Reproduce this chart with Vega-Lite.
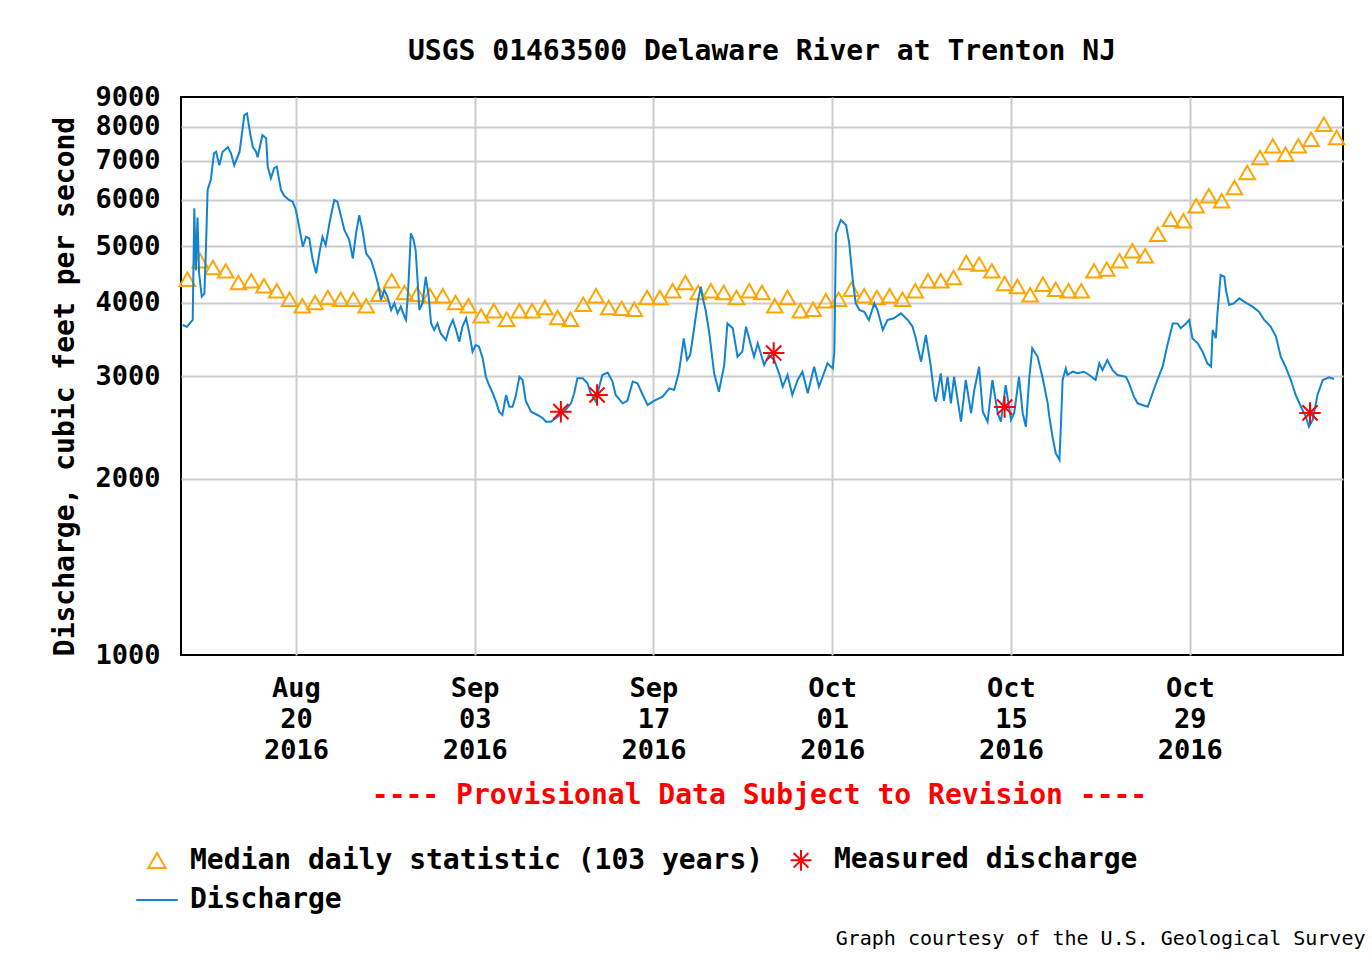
{
"$schema": "https://vega.github.io/schema/vega-lite/v6.json",
"width": 1162, "height": 558,
"autosize": {"type": "none"},
"padding": {"left": 181, "top": 97, "right": 29, "bottom": 300},
"background": "white",
"title": {"text": "USGS 01463500 Delaware River at Trenton NJ", "font": "DejaVu Sans Mono", "fontSize": 28, "fontWeight": "bold", "color": "#000000", "anchor": "middle", "offset": 17},
"config": {
  "view": {"stroke": "#000000", "strokeWidth": 2},
  "legend": {"orient": "none", "legendX": -38, "legendY": 749, "direction": "vertical", "columns": 2, "columnPadding": 22, "rowPadding": 11, "labelFont": "DejaVu Sans Mono", "labelFontSize": 28, "labelFontWeight": "bold", "labelColor": "#000000", "labelOffset": 19, "labelLimit": 0, "symbolSize": 300, "symbolStrokeWidth": 2, "symbolFillColor": "transparent", "padding": 0, "gridAlign": "each", "labelBaseline": "middle"}
},
"datasets": {
"median": [
{"t":"2016-08-11T12:00","v":4391},{"t":"2016-08-12T12:00","v":4722},{"t":"2016-08-13T12:00","v":4599},{"t":"2016-08-14T12:00","v":4539},{"t":"2016-08-15T12:00","v":4335},{"t":"2016-08-16T12:00","v":4364},{"t":"2016-08-17T12:00","v":4279},{"t":"2016-08-18T12:00","v":4196},{"t":"2016-08-19T12:00","v":4059},{"t":"2016-08-20T12:00","v":3955},
{"t":"2016-08-21T12:00","v":4007},{"t":"2016-08-22T12:00","v":4087},{"t":"2016-08-23T12:00","v":4059},{"t":"2016-08-24T12:00","v":4059},{"t":"2016-08-25T12:00","v":3955},{"t":"2016-08-26T12:00","v":4140},{"t":"2016-08-27T12:00","v":4364},{"t":"2016-08-28T12:00","v":4168},{"t":"2016-08-29T12:00","v":4140},{"t":"2016-08-30T12:00","v":4114},
{"t":"2016-08-31T12:00","v":4114},{"t":"2016-09-01T12:00","v":4007},{"t":"2016-09-02T12:00","v":3955},{"t":"2016-09-03T12:00","v":3802},{"t":"2016-09-04T12:00","v":3878},{"t":"2016-09-05T12:00","v":3752},{"t":"2016-09-06T12:00","v":3878},{"t":"2016-09-07T12:00","v":3878},{"t":"2016-09-08T12:00","v":3928},{"t":"2016-09-09T12:00","v":3777},
{"t":"2016-09-10T12:00","v":3752},{"t":"2016-09-11T12:00","v":3980},{"t":"2016-09-12T12:00","v":4114},{"t":"2016-09-13T12:00","v":3928},{"t":"2016-09-14T12:00","v":3915},{"t":"2016-09-15T12:00","v":3902},{"t":"2016-09-16T12:00","v":4087},{"t":"2016-09-17T12:00","v":4087},{"t":"2016-09-18T12:00","v":4196},{"t":"2016-09-19T12:00","v":4335},
{"t":"2016-09-20T12:00","v":4168},{"t":"2016-09-21T12:00","v":4196},{"t":"2016-09-22T12:00","v":4168},{"t":"2016-09-23T12:00","v":4087},{"t":"2016-09-24T12:00","v":4196},{"t":"2016-09-25T12:00","v":4168},{"t":"2016-09-26T12:00","v":3955},{"t":"2016-09-27T12:00","v":4087},{"t":"2016-09-28T12:00","v":3878},{"t":"2016-09-29T12:00","v":3902},
{"t":"2016-09-30T12:00","v":4034},{"t":"2016-10-01T12:00","v":4059},{"t":"2016-10-02T12:00","v":4222},{"t":"2016-10-03T12:00","v":4114},{"t":"2016-10-04T12:00","v":4087},{"t":"2016-10-05T12:00","v":4114},{"t":"2016-10-06T12:00","v":4059},{"t":"2016-10-07T12:00","v":4196},{"t":"2016-10-08T12:00","v":4364},{"t":"2016-10-09T12:00","v":4364},
{"t":"2016-10-10T12:00","v":4421},{"t":"2016-10-11T12:00","v":4691},{"t":"2016-10-12T12:00","v":4660},{"t":"2016-10-13T12:00","v":4539},{"t":"2016-10-14T12:00","v":4318},{"t":"2016-10-15T12:00","v":4268},{"t":"2016-10-16T12:00","v":4130},{"t":"2016-10-17T12:00","v":4306},{"t":"2016-10-18T12:00","v":4222},{"t":"2016-10-19T12:00","v":4196},
{"t":"2016-10-20T12:00","v":4196},{"t":"2016-10-21T12:00","v":4539},{"t":"2016-10-22T12:00","v":4569},{"t":"2016-10-23T12:00","v":4722},{"t":"2016-10-24T12:00","v":4912},{"t":"2016-10-25T12:00","v":4816},{"t":"2016-10-26T12:00","v":5243},{"t":"2016-10-27T12:00","v":5563},{"t":"2016-10-28T12:00","v":5528},{"t":"2016-10-29T12:00","v":5864},
{"t":"2016-10-30T12:00","v":6099},{"t":"2016-10-31T12:00","v":5980},{"t":"2016-11-01T12:00","v":6301},{"t":"2016-11-02T12:00","v":6686},{"t":"2016-11-03T12:00","v":7091},{"t":"2016-11-04T12:00","v":7425},{"t":"2016-11-05T12:00","v":7185},{"t":"2016-11-06T12:00","v":7425},{"t":"2016-11-07T12:00","v":7622},{"t":"2016-11-08T12:00","v":8085},
{"t":"2016-11-09T12:00","v":7672}
],
"discharge": [
{"t":"2016-08-11T03:00","v":3667},{"t":"2016-08-11T11:00","v":3640},{"t":"2016-08-11T22:00","v":3741},{"t":"2016-08-12T01:00","v":5805},{"t":"2016-08-12T04:00","v":4550},{"t":"2016-08-12T07:00","v":5600},{"t":"2016-08-12T10:00","v":4500},{"t":"2016-08-12T15:00","v":4100},{"t":"2016-08-12T20:00","v":4150},{"t":"2016-08-12T23:00","v":4990},
{"t":"2016-08-13T02:00","v":6240},{"t":"2016-08-13T08:00","v":6495},{"t":"2016-08-13T14:00","v":7210},{"t":"2016-08-13T18:00","v":7256},{"t":"2016-08-14T00:00","v":6880},{"t":"2016-08-14T06:00","v":7250},{"t":"2016-08-14T16:00","v":7390},{"t":"2016-08-14T22:00","v":7210},{"t":"2016-08-15T04:00","v":6880},{"t":"2016-08-15T14:00","v":7250},
{"t":"2016-08-15T17:00","v":7596},{"t":"2016-08-15T23:00","v":8382},{"t":"2016-08-16T04:00","v":8440},{"t":"2016-08-16T10:00","v":7800},{"t":"2016-08-16T15:00","v":7390},{"t":"2016-08-16T21:00","v":7256},{"t":"2016-08-17T00:00","v":7100},{"t":"2016-08-17T09:00","v":7748},{"t":"2016-08-17T16:00","v":7650},{"t":"2016-08-17T19:00","v":6840},
{"t":"2016-08-18T01:00","v":6535},{"t":"2016-08-18T07:00","v":6800},{"t":"2016-08-18T12:00","v":6840},{"t":"2016-08-18T20:00","v":6238},{"t":"2016-08-19T02:00","v":6100},{"t":"2016-08-19T11:00","v":6000},{"t":"2016-08-19T18:00","v":5960},{"t":"2016-08-20T00:00","v":5768},{"t":"2016-08-20T06:00","v":5401},{"t":"2016-08-20T13:00","v":4990},
{"t":"2016-08-20T19:00","v":5190},{"t":"2016-08-21T01:00","v":5160},{"t":"2016-08-21T07:00","v":4766},{"t":"2016-08-21T14:00","v":4494},{"t":"2016-08-21T20:00","v":4863},{"t":"2016-08-22T02:00","v":5190},{"t":"2016-08-22T08:00","v":5024},{"t":"2016-08-22T15:00","v":5474},{"t":"2016-08-23T00:00","v":5999},{"t":"2016-08-23T06:00","v":5960},
{"t":"2016-08-23T13:00","v":5617},{"t":"2016-08-23T19:00","v":5331},{"t":"2016-08-24T04:00","v":5135},{"t":"2016-08-24T11:00","v":4766},{"t":"2016-08-24T17:00","v":5260},{"t":"2016-08-24T23:00","v":5653},{"t":"2016-08-25T05:00","v":5331},{"t":"2016-08-25T12:00","v":4863},{"t":"2016-08-25T21:00","v":4737},{"t":"2016-08-26T03:00","v":4553},
{"t":"2016-08-26T10:00","v":4321},{"t":"2016-08-26T16:00","v":4046},{"t":"2016-08-26T22:00","v":4209},{"t":"2016-08-27T04:00","v":4100},{"t":"2016-08-27T11:00","v":3890},{"t":"2016-08-27T17:00","v":3995},{"t":"2016-08-27T23:00","v":3839},{"t":"2016-08-28T05:00","v":3942},{"t":"2016-08-28T12:00","v":3790},{"t":"2016-08-28T15:00","v":3741},
{"t":"2016-08-28T19:00","v":4209},{"t":"2016-08-29T00:00","v":5260},{"t":"2016-08-29T05:00","v":5135},{"t":"2016-08-29T09:00","v":4926},{"t":"2016-08-29T13:00","v":4321},{"t":"2016-08-29T16:00","v":3890},{"t":"2016-08-29T22:00","v":3995},{"t":"2016-08-30T04:00","v":4434},{"t":"2016-08-30T09:00","v":4150},{"t":"2016-08-30T14:00","v":3690},
{"t":"2016-08-30T20:00","v":3596},{"t":"2016-08-31T02:00","v":3690},{"t":"2016-08-31T08:00","v":3548},{"t":"2016-08-31T18:00","v":3457},{"t":"2016-09-01T00:00","v":3620},{"t":"2016-09-01T07:00","v":3741},{"t":"2016-09-01T13:00","v":3596},{"t":"2016-09-01T19:00","v":3434},{"t":"2016-09-02T01:00","v":3643},{"t":"2016-09-02T08:00","v":3765},
{"t":"2016-09-02T14:00","v":3548},{"t":"2016-09-02T20:00","v":3302},{"t":"2016-09-03T02:00","v":3390},{"t":"2016-09-03T08:00","v":3370},{"t":"2016-09-03T15:00","v":3217},{"t":"2016-09-03T21:00","v":2991},{"t":"2016-09-04T03:00","v":2893},{"t":"2016-09-04T10:00","v":2803},{"t":"2016-09-04T16:00","v":2712},{"t":"2016-09-04T22:00","v":2607},
{"t":"2016-09-05T04:00","v":2573},{"t":"2016-09-05T11:00","v":2784},{"t":"2016-09-05T17:00","v":2658},{"t":"2016-09-05T23:00","v":2658},{"t":"2016-09-06T05:00","v":2766},{"t":"2016-09-06T12:00","v":2991},{"t":"2016-09-06T18:00","v":2953},{"t":"2016-09-07T00:00","v":2720},{"t":"2016-09-07T10:00","v":2607},{"t":"2016-09-07T22:00","v":2573},
{"t":"2016-09-08T08:00","v":2540},{"t":"2016-09-08T14:00","v":2506},{"t":"2016-09-08T23:00","v":2506},{"t":"2016-09-09T12:00","v":2556},{"t":"2016-09-10T00:00","v":2607},{"t":"2016-09-10T13:00","v":2694},{"t":"2016-09-10T19:00","v":2803},{"t":"2016-09-11T01:00","v":2974},{"t":"2016-09-11T11:00","v":2974},{"t":"2016-09-11T20:00","v":2915},
{"t":"2016-09-12T02:00","v":2803},{"t":"2016-09-12T12:00","v":2712},{"t":"2016-09-12T18:00","v":2876},{"t":"2016-09-13T00:00","v":3012},{"t":"2016-09-13T10:00","v":3040},{"t":"2016-09-13T19:00","v":2934},{"t":"2016-09-14T01:00","v":2784},{"t":"2016-09-14T14:00","v":2694},{"t":"2016-09-14T23:00","v":2720},{"t":"2016-09-15T09:00","v":2934},
{"t":"2016-09-15T18:00","v":2915},{"t":"2016-09-16T04:00","v":2784},{"t":"2016-09-16T13:00","v":2677},{"t":"2016-09-17T01:00","v":2720},{"t":"2016-09-17T17:00","v":2766},{"t":"2016-09-18T06:00","v":2858},{"t":"2016-09-18T15:00","v":2839},{"t":"2016-09-19T00:00","v":3051},{"t":"2016-09-19T09:00","v":3480},{"t":"2016-09-19T15:00","v":3195},
{"t":"2016-09-19T21:00","v":3258},{"t":"2016-09-20T04:00","v":3596},{"t":"2016-09-20T12:00","v":4046},{"t":"2016-09-20T17:00","v":4265},{"t":"2016-09-20T20:00","v":4100},{"t":"2016-09-21T02:00","v":3890},{"t":"2016-09-21T09:00","v":3548},{"t":"2016-09-21T18:00","v":3032},{"t":"2016-09-22T03:00","v":2820},{"t":"2016-09-22T13:00","v":3132},
{"t":"2016-09-22T19:00","v":3690},{"t":"2016-09-23T05:00","v":3620},{"t":"2016-09-23T14:00","v":3236},{"t":"2016-09-23T23:00","v":3302},{"t":"2016-09-24T06:00","v":3643},{"t":"2016-09-24T15:00","v":3390},{"t":"2016-09-24T21:00","v":3236},{"t":"2016-09-25T04:00","v":3412},{"t":"2016-09-25T16:00","v":3132},{"t":"2016-09-26T01:00","v":3258},
{"t":"2016-09-26T11:00","v":3195},{"t":"2016-09-26T20:00","v":3032},{"t":"2016-09-27T03:00","v":2876},{"t":"2016-09-27T12:00","v":3012},{"t":"2016-09-27T21:00","v":2784},{"t":"2016-09-28T07:00","v":2953},{"t":"2016-09-28T16:00","v":3051},{"t":"2016-09-29T02:00","v":2803},{"t":"2016-09-29T14:00","v":3112},{"t":"2016-09-29T23:00","v":2876},
{"t":"2016-09-30T06:00","v":2991},{"t":"2016-09-30T15:00","v":3153},{"t":"2016-10-01T01:00","v":3091},{"t":"2016-10-01T04:00","v":3300},{"t":"2016-10-01T07:00","v":5260},{"t":"2016-10-01T16:00","v":5545},{"t":"2016-10-02T02:00","v":5436},{"t":"2016-10-02T08:00","v":5058},{"t":"2016-10-02T14:00","v":4434},{"t":"2016-10-02T20:00","v":3995},
{"t":"2016-10-03T03:00","v":3890},{"t":"2016-10-03T12:00","v":3864},{"t":"2016-10-03T21:00","v":3741},{"t":"2016-10-04T07:00","v":3995},{"t":"2016-10-04T13:00","v":3890},{"t":"2016-10-04T23:00","v":3596},{"t":"2016-10-05T08:00","v":3741},{"t":"2016-10-05T20:00","v":3765},{"t":"2016-10-06T09:00","v":3839},{"t":"2016-10-06T22:00","v":3741},
{"t":"2016-10-07T07:00","v":3643},{"t":"2016-10-07T13:00","v":3480},{"t":"2016-10-07T23:00","v":3174},{"t":"2016-10-08T08:00","v":3525},{"t":"2016-10-08T17:00","v":3132},{"t":"2016-10-09T00:00","v":2766},{"t":"2016-10-09T03:00","v":2712},{"t":"2016-10-09T12:00","v":3032},{"t":"2016-10-09T18:00","v":2720},{"t":"2016-10-10T01:00","v":2991},
{"t":"2016-10-10T07:00","v":2694},{"t":"2016-10-10T13:00","v":2991},{"t":"2016-10-11T02:00","v":2506},{"t":"2016-10-11T11:00","v":2953},{"t":"2016-10-11T21:00","v":2591},{"t":"2016-10-12T03:00","v":2839},{"t":"2016-10-12T12:00","v":3112},{"t":"2016-10-12T19:00","v":2607},{"t":"2016-10-13T04:00","v":2506},{"t":"2016-10-13T13:00","v":2953},
{"t":"2016-10-13T23:00","v":2591},{"t":"2016-10-14T05:00","v":2506},{"t":"2016-10-14T14:00","v":2893},{"t":"2016-10-15T00:00","v":2523},{"t":"2016-10-15T06:00","v":2591},{"t":"2016-10-15T15:00","v":2990},{"t":"2016-10-15T22:00","v":2591},{"t":"2016-10-16T04:00","v":2457},{"t":"2016-10-16T10:00","v":2953},{"t":"2016-10-16T16:00","v":3346},
{"t":"2016-10-17T02:00","v":3236},{"t":"2016-10-17T11:00","v":2991},{"t":"2016-10-17T21:00","v":2694},{"t":"2016-10-18T00:00","v":2556},{"t":"2016-10-18T06:00","v":2362},{"t":"2016-10-18T12:00","v":2213},{"t":"2016-10-18T19:00","v":2155},{"t":"2016-10-18T22:00","v":2490},{"t":"2016-10-19T01:00","v":2953},{"t":"2016-10-19T07:00","v":3091},
{"t":"2016-10-19T10:00","v":3012},{"t":"2016-10-19T20:00","v":3051},{"t":"2016-10-20T05:00","v":3032},{"t":"2016-10-20T17:00","v":3051},{"t":"2016-10-21T03:00","v":3012},{"t":"2016-10-21T15:00","v":2953},{"t":"2016-10-21T22:00","v":3153},{"t":"2016-10-22T04:00","v":3070},{"t":"2016-10-22T13:00","v":3195},{"t":"2016-10-22T23:00","v":3070},
{"t":"2016-10-23T08:00","v":3012},{"t":"2016-10-24T00:00","v":2991},{"t":"2016-10-24T06:00","v":2915},{"t":"2016-10-24T15:00","v":2766},{"t":"2016-10-24T22:00","v":2694},{"t":"2016-10-25T07:00","v":2677},{"t":"2016-10-25T17:00","v":2658},{"t":"2016-10-26T02:00","v":2803},{"t":"2016-10-26T11:00","v":2953},{"t":"2016-10-26T21:00","v":3112},
{"t":"2016-10-27T06:00","v":3390},{"t":"2016-10-27T16:00","v":3690},{"t":"2016-10-28T01:00","v":3690},{"t":"2016-10-28T07:00","v":3620},{"t":"2016-10-28T17:00","v":3690},{"t":"2016-10-28T23:00","v":3741},{"t":"2016-10-29T05:00","v":3480},{"t":"2016-10-29T15:00","v":3412},{"t":"2016-10-30T00:00","v":3302},{"t":"2016-10-30T09:00","v":3153},
{"t":"2016-10-30T16:00","v":3112},{"t":"2016-10-30T19:00","v":3596},{"t":"2016-10-31T01:00","v":3480},{"t":"2016-10-31T04:00","v":3839},{"t":"2016-10-31T10:00","v":4465},{"t":"2016-10-31T17:00","v":4434},{"t":"2016-10-31T20:00","v":4209},{"t":"2016-11-01T02:00","v":3968},{"t":"2016-11-01T11:00","v":3995},{"t":"2016-11-01T21:00","v":4074},
{"t":"2016-11-02T06:00","v":4020},{"t":"2016-11-02T22:00","v":3942},{"t":"2016-11-03T10:00","v":3864},{"t":"2016-11-03T20:00","v":3741},{"t":"2016-11-04T08:00","v":3643},{"t":"2016-11-04T18:00","v":3503},{"t":"2016-11-05T03:00","v":3236},{"t":"2016-11-05T12:00","v":3112},{"t":"2016-11-05T22:00","v":2953},{"t":"2016-11-06T07:00","v":2784},
{"t":"2016-11-06T17:00","v":2658},{"t":"2016-11-07T02:00","v":2556},{"t":"2016-11-07T08:00","v":2457},{"t":"2016-11-07T15:00","v":2523},{"t":"2016-11-08T00:00","v":2784},{"t":"2016-11-08T10:00","v":2953},{"t":"2016-11-08T22:00","v":2985},{"t":"2016-11-09T07:00","v":2965}
],
"measured": [
{"t":"2016-09-09T18:00","v":2607},{"t":"2016-09-12T14:00","v":2784},{"t":"2016-09-26T10:00","v":3284},{"t":"2016-10-14T12:00","v":2655},{"t":"2016-11-07T10:00","v":2594}
]
},
"encoding": {
  "x": {"field": "t", "type": "temporal",
    "scale": {"domain": [{"year": 2016, "month": "aug", "date": 11}, {"year": 2016, "month": "nov", "date": 10}]},
    "axis": {
      "values": [{"year": 2016, "month": "aug", "date": 20}, {"year": 2016, "month": "sep", "date": 3}, {"year": 2016, "month": "sep", "date": 17}, {"year": 2016, "month": "oct", "date": 1}, {"year": 2016, "month": "oct", "date": 15}, {"year": 2016, "month": "oct", "date": 29}],
      "labelExpr": "[timeFormat(datum.value, '%b'), timeFormat(datum.value, '%d'), timeFormat(datum.value, '%Y')]",
      "labelFont": "DejaVu Sans Mono", "labelFontSize": 27, "labelFontWeight": "bold", "labelColor": "#000000",
      "labelLineHeight": 31, "labelBaseline": "top", "labelPadding": 20, "labelOverlap": false, "labelFlush": false, "labelBound": false,
      "ticks": false, "domain": false, "grid": true, "gridColor": "#cccccc", "gridWidth": 2, "gridOpacity": 1,
      "title": "---- Provisional Data Subject to Revision ----", "titleColor": "#ff0000", "titleFont": "DejaVu Sans Mono", "titleFontSize": 28, "titleFontWeight": "bold",
      "titleX": 578, "titleY": 140, "titleAlign": "center", "titleBaseline": "middle"
    }
  }
},
"layer": [
{
  "data": {"name": "median"},
  "mark": {"type": "point", "filled": false, "size": 240, "strokeWidth": 2, "opacity": 1},
  "encoding": {
    "y": {"field": "v", "type": "quantitative",
      "scale": {"type": "log", "domain": [1000, 9000], "nice": false},
      "axis": {
        "orient": "left", "values": [1000, 2000, 3000, 4000, 5000, 6000, 7000, 8000, 9000], "format": "d",
        "labelFont": "DejaVu Sans Mono", "labelFontSize": 27, "labelFontWeight": "bold", "labelColor": "#000000", "labelPadding": 21, "labelBaseline": "middle",
        "labelFlush": false, "labelOverlap": false, "labelBound": false,
        "ticks": false, "domain": false, "grid": true,
        "gridColor": {"condition": {"test": "datum.value <= 1000 || datum.value >= 9000", "value": "transparent"}, "value": "#cccccc"},
        "gridWidth": 2, "gridOpacity": 1,
        "title": "Discharge, cubic feet per second", "titleFont": "DejaVu Sans Mono", "titleFontSize": 28, "titleFontWeight": "bold", "titleColor": "#000000",
        "titleAngle": 270, "titleX": -116, "titleY": 289, "titleAlign": "center", "titleBaseline": "middle"
      }
    },
    "color": {"datum": "Median daily statistic (103 years)", "type": "nominal", "title": null,
      "scale": {"domain": ["Median daily statistic (103 years)", "Discharge", "Measured discharge"], "range": ["#ffa500", "#1183d0", "#ff0000"]}},
    "shape": {"datum": "Median daily statistic (103 years)", "type": "nominal", "title": null,
      "scale": {"domain": ["Median daily statistic (103 years)", "Discharge", "Measured discharge"], "range": ["triangle-up", "M-2.4,0L2.4,0", "M0,-1.2L0,1.2M-1.2,0L1.2,0M-0.85,-0.85L0.85,0.85M-0.85,0.85L0.85,-0.85"]}}
  }
},
{
  "data": {"name": "discharge"},
  "mark": {"type": "line", "strokeWidth": 2},
  "encoding": {
    "y": {"field": "v", "type": "quantitative", "axis": null},
    "color": {"datum": "Discharge", "type": "nominal", "title": null}
  }
},
{
  "data": {"name": "measured"},
  "mark": {"type": "point", "filled": false, "size": 320, "strokeWidth": 2, "opacity": 1},
  "encoding": {
    "y": {"field": "v", "type": "quantitative",
      "axis": {"orient": "right", "labels": false, "ticks": false, "domain": false, "grid": false,
        "title": "Graph courtesy of the U.S. Geological Survey", "titleFont": "DejaVu Sans Mono", "titleFontSize": 20, "titleFontWeight": "normal", "titleColor": "#000000",
        "titleAngle": 0, "titleX": 22, "titleY": 841, "titleAlign": "right", "titleBaseline": "middle"}},
    "color": {"datum": "Measured discharge", "type": "nominal", "title": null},
    "shape": {"datum": "Measured discharge", "type": "nominal", "title": null}
  }
}
],
"resolve": {"axis": {"y": "independent"}}
}
